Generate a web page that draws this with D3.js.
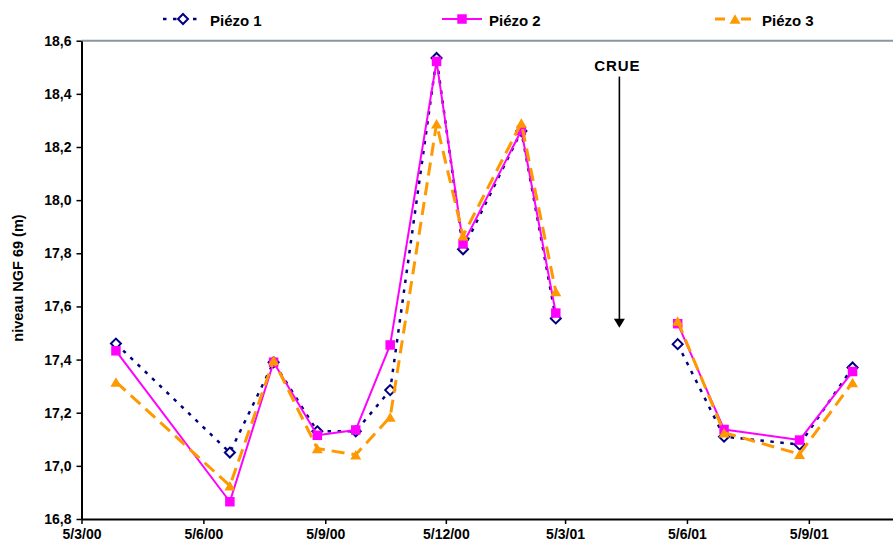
<!DOCTYPE html>
<html>
<head>
<meta charset="utf-8">
<script src="https://cdn.jsdelivr.net/npm/d3@7"></script>
<style>
  html, body { margin: 0; padding: 0; background: #fff; }
  svg { display: block; overflow: hidden; }
  text { font-family: "Liberation Sans", Arial, sans-serif; font-weight: bold; fill: #000; }
</style>
</head>
<body>
<svg id="chart" width="893" height="543"></svg>
<script>
// ---- DATA ----
const dates = ["2000-03-31","2000-06-25","2000-07-28","2000-08-30","2000-09-28","2000-10-24",
               "2000-11-28","2000-12-18","2001-01-31","2001-02-26","2001-04-15",
               "2001-05-29","2001-07-03","2001-08-29","2001-10-08"];
const piezo1 = [17.46, 17.05, 17.39, 17.13, 17.13, 17.285, 18.535, 17.815, 18.26, 17.555, null,
                17.458, 17.11, 17.08, 17.37];
const piezo2 = [17.433, 16.865, 17.39, 17.115, 17.135, 17.455, 18.522, 17.835, 18.262, 17.575, null,
                17.535, 17.137, 17.097, 17.355];
const piezo3 = [17.316, 16.925, 17.397, 17.065, 17.042, 17.184, 18.287, 17.866, 18.29, 17.656, null,
                17.545, 17.125, 17.044, 17.314];
const seriesNames = ["Piézo 1", "Piézo 2", "Piézo 3"];
const xTickDates = ["2000-03-05","2000-06-05","2000-09-05","2000-12-05","2001-03-05",
                    "2001-06-05","2001-09-05"];
const xDomain = ["2000-03-05", "2001-12-05"];
const yTicks = [16.8, 17.0, 17.2, 17.4, 17.6, 17.8, 18.0, 18.2, 18.4, 18.6];
const yLabel = "niveau NGF 69 (m)";
const crueLabel = "CRUE";
const crueDate = "2001-04-15";
const crueTop = 18.465;
const crueBottom = 17.52;

// ---- SETUP ----
const parse = d3.timeParse("%Y-%m-%d");
const svg = d3.select("#chart");
const W = 893, H = 543;
const plotLeft = 81.5, plotTop = 40.7, plotBottom = 519;

const x = d3.scaleTime()
  .domain(xDomain.map(parse))
  .range([plotLeft, 929.4]);
const y = d3.scaleLinear().domain([16.8, 18.6]).range([plotBottom, plotTop]);

const fmtDate = d3.timeFormat("%-d/%-m/%y");
const fmtNum = v => v.toFixed(1).replace(".", ",");

// top plot border (gray)
svg.append("line")
  .attr("x1", plotLeft).attr("x2", W)
  .attr("y1", y(18.6)).attr("y2", y(18.6))
  .attr("stroke", "#8898a2").attr("stroke-width", 2);

// X axis
const gx = svg.append("g")
  .attr("transform", `translate(0,${plotBottom})`)
  .call(d3.axisBottom(x).tickValues(xTickDates.map(parse)).tickFormat(fmtDate)
        .tickSize(5).tickSizeOuter(0).tickPadding(5));
gx.select(".domain").attr("stroke", "#000").attr("stroke-width", 2);
gx.selectAll(".tick line").attr("stroke", "#000").attr("stroke-width", 1.5);
gx.selectAll(".tick text").style("font-size", "14px").attr("fill", "#000");

// Y axis
const gy = svg.append("g")
  .attr("transform", `translate(${plotLeft},0)`)
  .call(d3.axisLeft(y).tickValues(yTicks).tickFormat(fmtNum)
        .tickSize(5).tickSizeOuter(0).tickPadding(5));
gy.select(".domain").attr("stroke", "#000").attr("stroke-width", 2);
gy.selectAll(".tick line").attr("stroke", "#000").attr("stroke-width", 1.5);
gy.selectAll(".tick text").style("font-size", "14px").attr("fill", "#000");

// Y label
svg.append("text")
  .attr("transform", `translate(23,278) rotate(-90)`)
  .attr("text-anchor", "middle")
  .style("font-size", "14.5px")
  .text(yLabel);

// ---- marker shapes ----
const diamondType = { draw(ctx, size) { const r = Math.sqrt(size) / 2;
  ctx.moveTo(0, -r); ctx.lineTo(r, 0); ctx.lineTo(0, r); ctx.lineTo(-r, 0); ctx.closePath(); } };
const triType = { draw(ctx, size) { const r = Math.sqrt(size) / 2;
  ctx.moveTo(0, -r * 0.95); ctx.lineTo(r * 1.1, r * 0.95); ctx.lineTo(-r * 1.1, r * 0.95); ctx.closePath(); } };

const series = [
  { name: seriesNames[0], values: piezo1, color: "#000080", width: 2.5, dash: "3.5,6.5",
    symbol: diamondType, size: 100, fill: "#fff", sw: 2 },
  { name: seriesNames[1], values: piezo2, color: "#FF00FF", width: 2, dash: null,
    symbol: d3.symbolSquare, size: 90, fill: "#FF00FF", sw: 0 },
  { name: seriesNames[2], values: piezo3, color: "#FF9900", width: 3, dash: "13,7",
    symbol: triType, size: 100, fill: "#FF9900", sw: 0 }
];

const line = d3.line()
  .defined(d => d.v != null)
  .x(d => x(d.date)).y(d => y(d.v));

series.forEach(s => {
  const pts = dates.map((d, i) => ({ date: parse(d), v: s.values[i] }));
  svg.append("path")
    .datum(pts)
    .attr("d", line)
    .attr("fill", "none")
    .attr("stroke", s.color)
    .attr("stroke-width", s.width)
    .attr("stroke-dasharray", s.dash)
    .attr("stroke-linejoin", "round");
  svg.append("g").selectAll("path")
    .data(pts.filter(p => p.v != null))
    .join("path")
    .attr("transform", p => `translate(${x(p.date)},${y(p.v)})`)
    .attr("d", d3.symbol(s.symbol, s.size))
    .attr("fill", s.fill)
    .attr("stroke", s.sw ? s.color : "none")
    .attr("stroke-width", s.sw);
});

// CRUE annotation
const cx = x(parse(crueDate));
svg.append("line")
  .attr("x1", cx).attr("x2", cx)
  .attr("y1", y(crueTop)).attr("y2", y(crueBottom) - 7)
  .attr("stroke", "#000").attr("stroke-width", 1.6);
svg.append("path")
  .attr("transform", `translate(${cx},${y(crueBottom)})`)
  .attr("d", "M0,0L-5.5,-9L5.5,-9Z")
  .attr("fill", "#000");
svg.append("text")
  .attr("x", cx - 2).attr("y", 70.5)
  .attr("text-anchor", "middle")
  .style("font-size", "15px")
  .style("letter-spacing", "1px")
  .text(crueLabel);

// Legend
const legendX = [163, 442, 715];
const legY = 19;
series.forEach((s, i) => {
  const g = svg.append("g").attr("transform", `translate(${legendX[i]},${legY})`);
  g.append("line")
    .attr("x1", 0).attr("x2", 40)
    .attr("stroke", s.color).attr("stroke-width", s.width)
    .attr("stroke-dasharray", s.dash ? (i === 0 ? "3.5,6.5" : "10,16") : null);
  g.append("path")
    .attr("transform", `translate(20,0)`)
    .attr("d", d3.symbol(s.symbol, s.size))
    .attr("fill", s.fill)
    .attr("stroke", s.sw ? s.color : "none")
    .attr("stroke-width", s.sw);
  g.append("text")
    .attr("x", 47).attr("y", 7)
    .style("font-size", "15px")
    .text(s.name);
});
</script>
</body>
</html>
